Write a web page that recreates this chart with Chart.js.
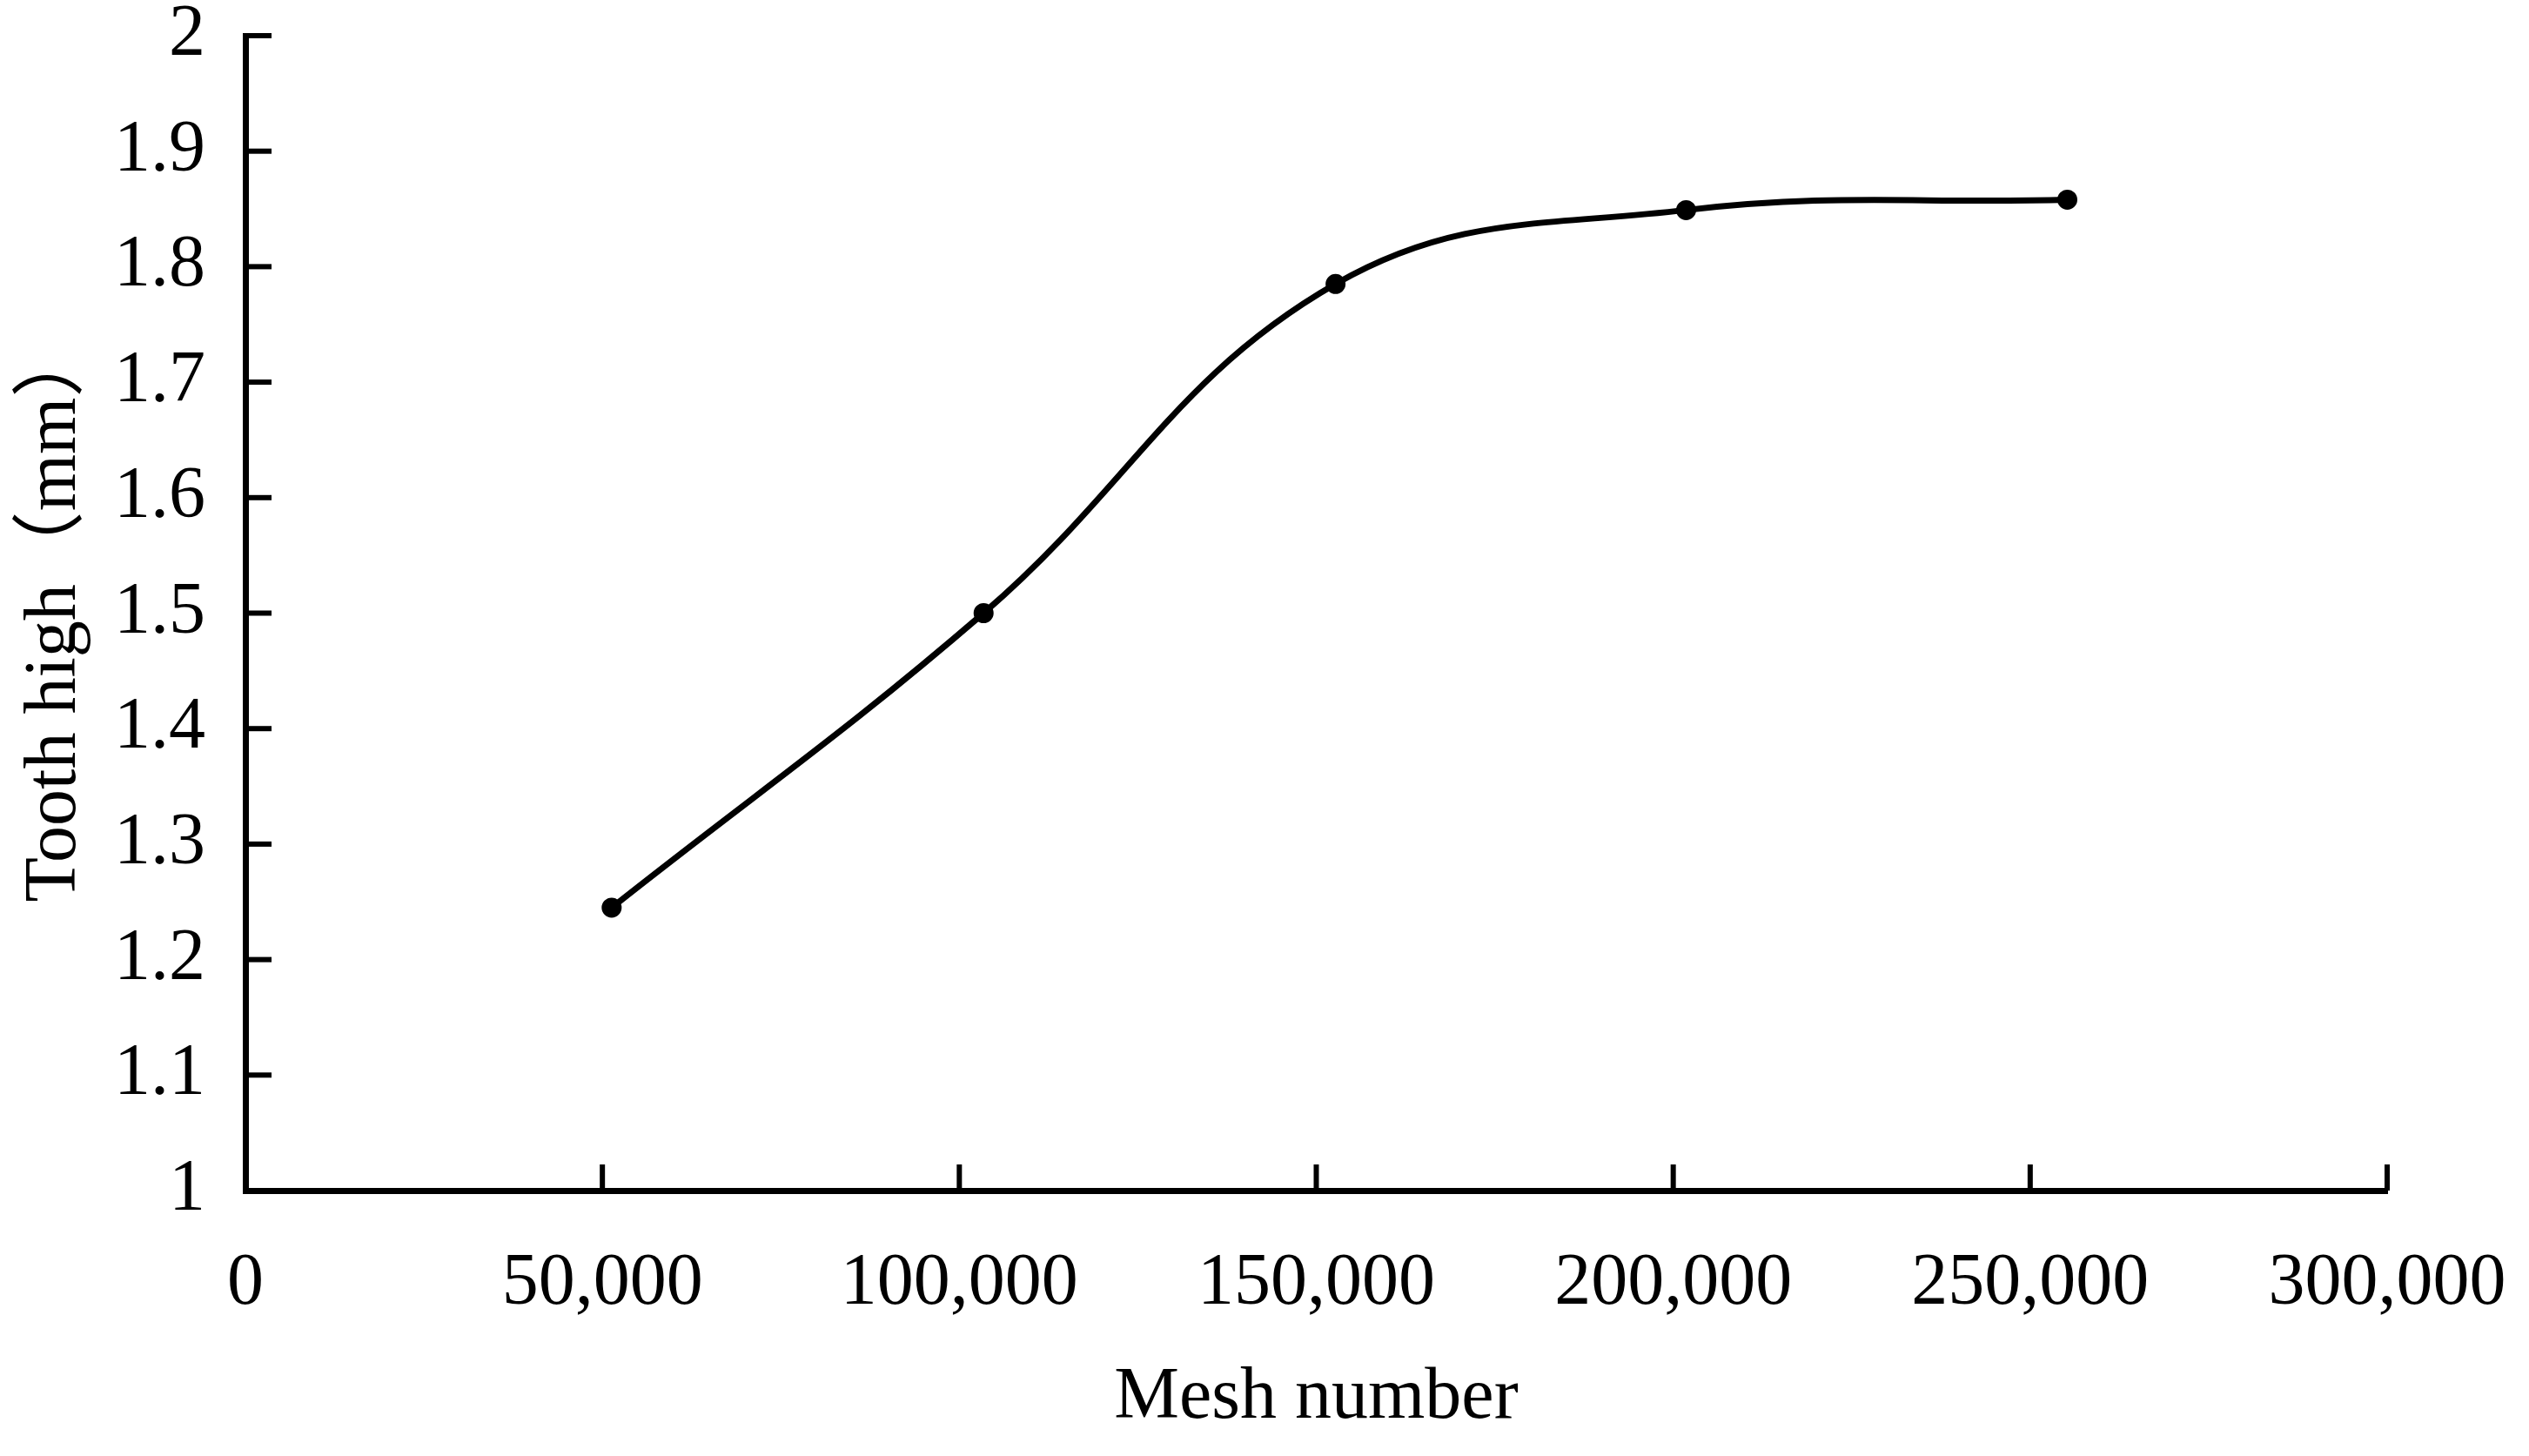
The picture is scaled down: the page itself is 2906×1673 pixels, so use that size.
<!DOCTYPE html>
<html>
<head>
<meta charset="utf-8">
<script src="https://cdn.jsdelivr.net/npm/chart.js@4.4.0/dist/chart.umd.min.js"></script>
<style>
  html, body { margin: 0; padding: 0; background: #fff; }
  #wrap { width: 2906px; height: 1673px; }
</style>
</head>
<body>
<div id="wrap"><canvas id="chart1"></canvas></div>
<script>
// values
let meshNumber = [51300, 103400, 152700, 201800, 255200];
let toothHigh = [1.245, 1.5, 1.785, 1.849, 1.858];
let xTicks = [0, 50000, 100000, 150000, 200000, 250000, 300000];
let yTicks = [1, 1.1, 1.2, 1.3, 1.4, 1.5, 1.6, 1.7, 1.8, 1.9, 2];

let points = [];
for (let i = 0; i < meshNumber.length; i++){
  points.push({x: meshNumber[i], y: toothHigh[i]});
}

let fontFam = '"Liberation Serif", "Times New Roman", "Noto Sans CJK SC", serif';

// ticks drawn inward, like the original
let innerTicks = {
  id: 'innerTicks',
  afterDraw(chart) {
    let c = chart.ctx;
    let xs = chart.scales.x, ys = chart.scales.y;
    let area = chart.chartArea;
    c.save();
    c.strokeStyle = '#000';
    c.lineWidth = 6;
    xTicks.forEach(v => {
      if (v === 0) return;
      let px = xs.getPixelForValue(v);
      c.beginPath();
      c.moveTo(px, area.bottom);
      c.lineTo(px, area.bottom - 30);
      c.stroke();
    });
    yTicks.forEach(v => {
      if (v === 1) return;
      let py = ys.getPixelForValue(v);
      c.beginPath();
      c.moveTo(area.left, py);
      c.lineTo(area.left + 30, py);
      c.stroke();
    });
    c.restore();
  }
};

let ctx1 = document.getElementById('chart1');
let chart1 = new Chart(ctx1, {
  type: 'scatter',
  data: {
    datasets: [{
      data: points,
      showLine: true,
      borderColor: '#000',
      backgroundColor: '#000',
      borderWidth: 7,
      pointRadius: 8,
      pointHoverRadius: 8,
      tension: 0.4
    }]
  },
  options: {
    responsive: true,
    maintainAspectRatio: false,
    animation: false,
    layout: { padding: { top: 41, right: 163, left: 0, bottom: 0 } },
    plugins: { legend: { display: false }, tooltip: { enabled: false } },
    scales: {
      x: {
        type: 'linear',
        min: 0,
        max: 300000,
        afterBuildTicks: s => { s.ticks = xTicks.map(v => ({value: v})); },
        afterFit: s => { s.height = 305; s.paddingLeft = 0; s.paddingRight = 0; },
        grid: { display: false, drawTicks: false },
        border: { display: true, color: '#000', width: 7 },
        ticks: {
          color: '#000',
          padding: 58,
          maxRotation: 0,
          font: { family: fontFam, size: 84 },
          callback: v => v.toLocaleString('en-US')
        },
        title: {
          display: true,
          text: 'Mesh number',
          color: '#000',
          font: { family: fontFam, size: 84 },
          padding: { top: 0, bottom: 16 }
        }
      },
      y: {
        type: 'linear',
        min: 1,
        max: 2,
        afterBuildTicks: s => { s.ticks = yTicks.map(v => ({value: v})); },
        afterFit: s => { s.width = 282; s.paddingTop = 0; s.paddingBottom = 0; },
        grid: { display: false, drawTicks: false },
        border: { display: true, color: '#000', width: 7 },
        ticks: {
          color: '#000',
          padding: 46,
          font: { family: fontFam, size: 84 },
          callback: v => String(Math.round(v * 10) / 10)
        },
        title: {
          display: true,
          text: 'Tooth high（mm）',
          color: '#000',
          font: { family: fontFam, size: 84 },
          padding: { top: 14, bottom: 0 }
        }
      }
    }
  },
  plugins: [innerTicks]
});
</script>
</body>
</html>
